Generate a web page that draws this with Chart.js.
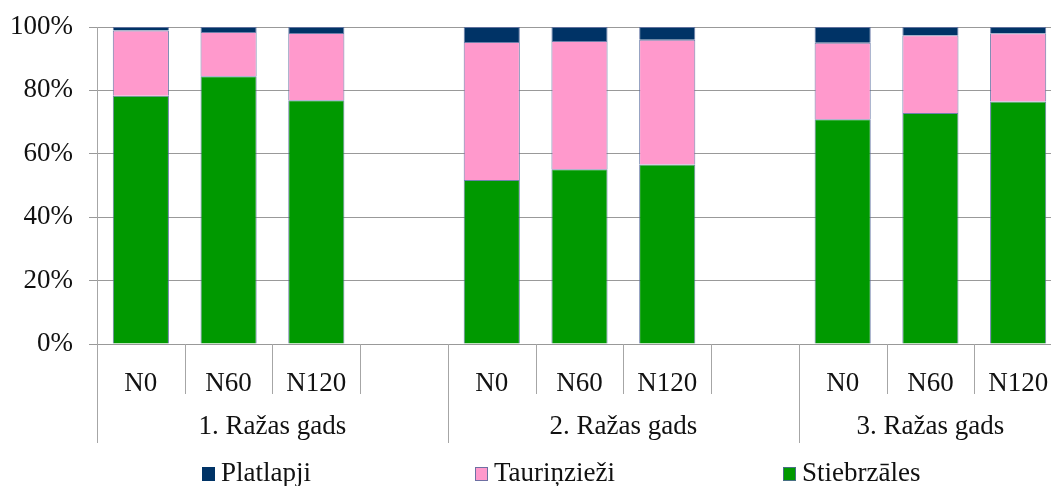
<!DOCTYPE html>
<html>
<head>
<meta charset="utf-8">
<script src="https://cdn.jsdelivr.net/npm/chart.js@4"></script>
<style>
  html, body { margin: 0; padding: 0; background: #fff; overflow: hidden; }
  #wrap { width: 1070px; height: 486px; }
</style>
</head>
<body>
<div id="wrap"><canvas id="c" width="1070" height="486"></canvas></div>
<script>
// Categories: three harvest years, each with three nitrogen rates and a spacer slot
const categories = ["N0", "N60", "N120", "", "N0", "N60", "N120", "", "N0", "N60", "N120"];
const groups = ["1. Ražas gads", "2. Ražas gads", "3. Ražas gads"];
const groupSpans = [[0, 3], [4, 7], [8, 10]];

// Botanical composition shares, %
const stiebrzales = [78.3, 84.5, 76.9, null, 51.7, 55.1, 56.6, null, 70.9, 72.9, 76.5];
const taurinziezi = [20.6, 13.9, 21.2, null, 43.6, 40.5, 39.4, null, 24.1, 24.5, 21.5];
const platlapji   = [1.1, 1.6, 1.9, null, 4.7, 4.4, 4.0, null, 5.0, 2.6, 2.0];

const yTicks = [0, 20, 40, 60, 80, 100];

const FONT = "'Liberation Serif', 'Times New Roman', serif";
const FS = 27;
const BORDER = "rgba(85,105,155,0.85)";

const legendItems = [
  { text: "Platlapji", color: "#003366", x: 202 },
  { text: "Tauriņzieži", color: "#FF99CC", x: 475 },
  { text: "Stiebrzāles", color: "#009900", x: 783 }
];

// Two-level category axis: separators and group captions under the N labels, plus legend
const groupAxis = {
  id: "groupAxis",
  afterDraw(chart) {
    const ctx = chart.ctx;
    const xs = chart.scales.x;
    const area = chart.chartArea;
    const w = xs.getPixelForValue(1) - xs.getPixelForValue(0);
    const bound = i => xs.getPixelForValue(i) - w / 2;
    const groupStarts = groupSpans.map(g => g[0]);
    ctx.save();
    ctx.strokeStyle = "#a6a6a6";
    ctx.lineWidth = 1;
    for (let i = 0; i <= categories.length; i++) {
      const x = Math.round(bound(i)) + 0.5;
      const long = groupStarts.includes(i) || i === categories.length;
      ctx.beginPath();
      ctx.moveTo(x, area.bottom);
      ctx.lineTo(x, area.bottom + (long ? 99 : 50));
      ctx.stroke();
    }
    ctx.fillStyle = "#111";
    ctx.font = FS + "px " + FONT;
    ctx.textAlign = "center";
    ctx.textBaseline = "middle";
    groupSpans.forEach((g, k) => {
      const cx = (bound(g[0]) + bound(g[1] + 1)) / 2;
      ctx.fillText(groups[k], cx, area.bottom + 83);
    });
    // legend
    ctx.textAlign = "left";
    const ly = 474;
    legendItems.forEach(it => {
      ctx.fillStyle = it.color;
      ctx.fillRect(it.x, ly - 7, 13, 14);
      if (it.color !== "#003366") {
        ctx.strokeStyle = BORDER;
        ctx.strokeRect(it.x + 0.5, ly - 6.5, 12, 13);
      }
      ctx.fillStyle = "#111";
      ctx.font = FS + "px " + FONT;
      ctx.fillText(it.text, it.x + 19, ly);
    });
    ctx.restore();
  }
};

const ds = (label, data, color) => ({
  label, data, backgroundColor: color,
  borderColor: BORDER, borderWidth: 1,
  categoryPercentage: 1.0, barPercentage: 0.64
});

new Chart(document.getElementById("c"), {
  type: "bar",
  data: {
    labels: categories,
    datasets: [
      ds("Stiebrzāles", stiebrzales, "#009900"),
      ds("Tauriņzieži", taurinziezi, "#FF99CC"),
      ds("Platlapji", platlapji, "#003366")
    ]
  },
  options: {
    responsive: false,
    animation: false,
    layout: { padding: { top: 27, right: 8, left: 0, bottom: 0 } },
    plugins: { legend: { display: false }, tooltip: { enabled: false } },
    scales: {
      x: {
        stacked: true,
        grid: { display: false, drawOnChartArea: false },
        border: { display: true, color: "#999" },
        ticks: {
          color: "#111", font: { family: FONT, size: FS },
          padding: 16, maxRotation: 0, autoSkip: false
        },
        afterFit(s) { s.height = 142; s.paddingLeft = 0; s.paddingRight = 0; }
      },
      y: {
        stacked: true, min: 0, max: 100,
        afterBuildTicks(s) { s.ticks = yTicks.map(v => ({ value: v })); },
        grid: { color: "#999", tickLength: 8, drawTicks: true },
        border: { display: true, color: "#a6a6a6" },
        ticks: {
          color: "#111", font: { family: FONT, size: FS }, padding: 16,
          callback: v => v + "%"
        },
        afterFit(s) { s.width = 97; s.paddingTop = 0; s.paddingBottom = 0; }
      }
    }
  },
  plugins: [groupAxis]
});
</script>
</body>
</html>
